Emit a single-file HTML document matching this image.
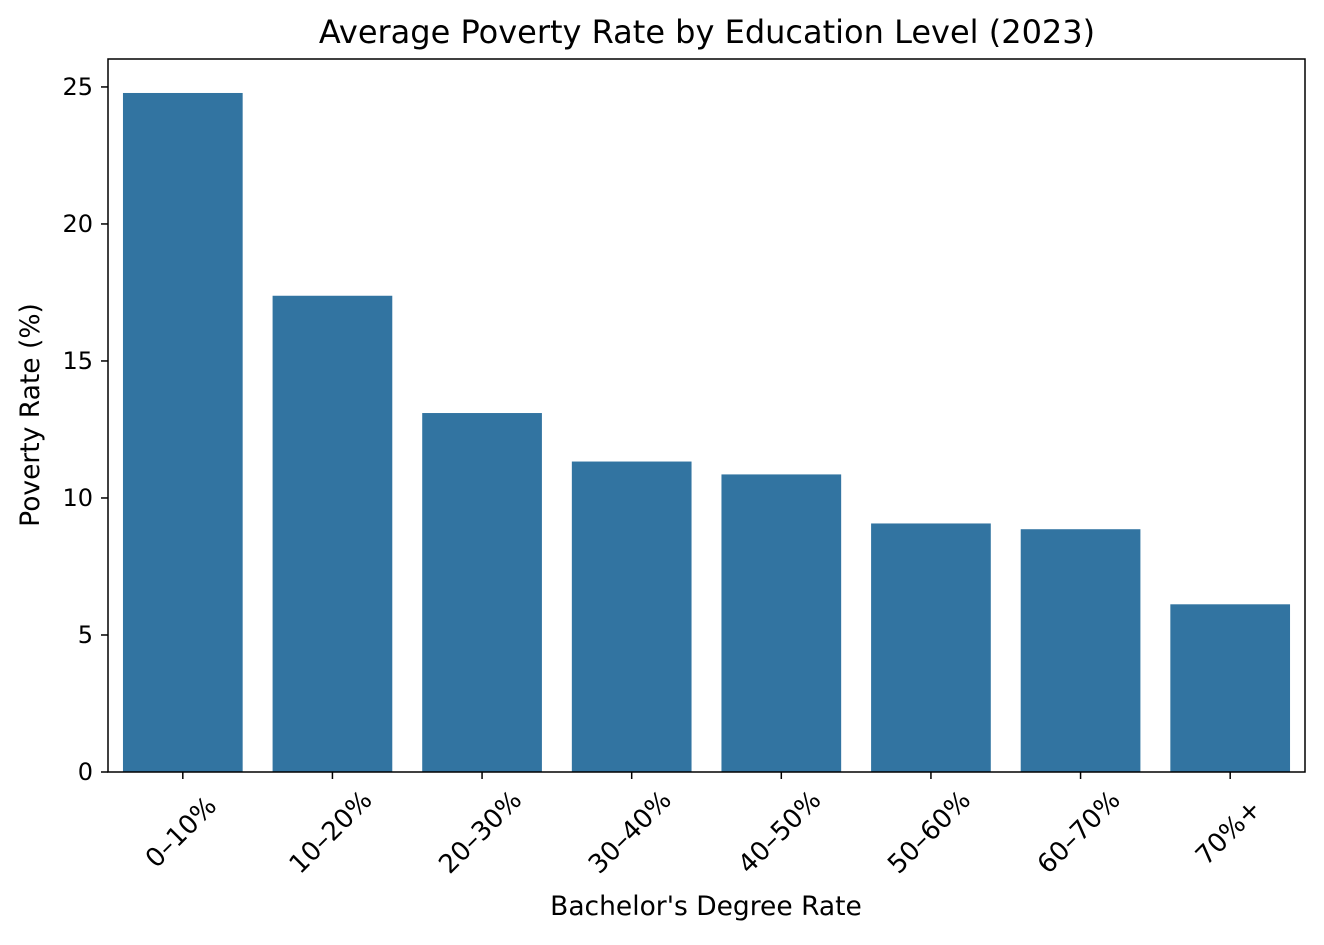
<!DOCTYPE html>
<html><head><meta charset="utf-8"><style>
body{margin:0;background:#fff}
svg text{font-family:"DejaVu Sans","Liberation Sans",sans-serif;fill:#000}
</style></head><body>
<svg id="chart" width="1324" height="940" xmlns="http://www.w3.org/2000/svg">
<text x="707" y="43" font-size="32" text-anchor="middle">Average Poverty Rate by Education Level (2023)</text>
<text x="706" y="915" font-size="26.5" text-anchor="middle">Bachelor's Degree Rate</text>
<text transform="translate(39,415) rotate(-90)" font-size="26.5" text-anchor="middle">Poverty Rate (%)</text>
<g id="bars"></g><g id="axes"></g>
</svg>
<script>
const categories=["0–10%","10–20%","20–30%","30–40%","40–50%","50–60%","60–70%","70%+"];
const values=[24.78,17.38,13.1,11.33,10.86,9.07,8.86,6.12];
const yTicks=[0,5,10,15,20,25];
const L=108,R=1305,T=59,B=772,yMax=26.02;
const xs=i=>L+(i+0.5)*(R-L)/categories.length;
const ys=v=>B-v/yMax*(B-T);
const NS="http://www.w3.org/2000/svg";
const bars=document.getElementById('bars'),axes=document.getElementById('axes');
function mk(tag,attrs,parent,txt){const e=document.createElementNS(NS,tag);for(const k in attrs)e.setAttribute(k,attrs[k]);if(txt!==undefined)e.textContent=txt;parent.appendChild(e);return e;}
const bw=0.8*(R-L)/categories.length;
values.forEach((v,i)=>{
  const r=mk('rect',{x:xs(i)-bw/2,y:ys(v),width:bw,height:B-ys(v),fill:'#3274a1'},bars);
  
  
});
const frame=mk('rect',{x:L,y:T,width:R-L,height:B-T,fill:'none',stroke:'#000','stroke-width':1.5},axes);


yTicks.forEach(t=>{
  const y=ys(t);
  const tk=mk('line',{x1:L-7,x2:L,y1:y,y2:y,stroke:'#000','stroke-width':1.5},axes);
  
  
  const lb=mk('text',{x:L-15,y:y+8,'font-size':24,'text-anchor':'end'},axes,String(t));
  
  
});
categories.forEach((c,i)=>{
  const x=xs(i);
  const tk=mk('line',{x1:x,x2:x,y1:B,y2:B+7,stroke:'#000','stroke-width':1.5},axes);
  
  
  const lb=mk('text',{transform:`translate(${x-1},833) rotate(-45)`,'font-size':26,'text-anchor':'middle','dominant-baseline':'middle'},axes,c);
  
  
});
</script>
</body></html>
